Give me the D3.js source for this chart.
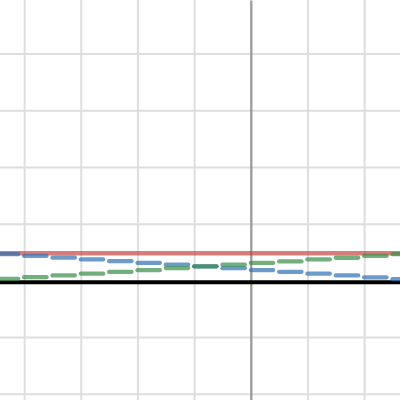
<!DOCTYPE html>
<html>
<head>
<meta charset="utf-8">
<script src="https://cdn.jsdelivr.net/npm/d3@7"></script>
<style>
  html, body { margin: 0; padding: 0; background: #fff; }
  svg { display: block; }
</style>
</head>
<body>
<div class="chart"></div>
<script>
// === Data ===
// left edge of every step, step width is 0.5
const stepStarts = [-4.5, -4, -3.5, -3, -2.5, -2, -1.5, -1, -0.5, 0, 0.5, 1, 1.5, 2, 2.5];
const blueSteps = [0.462, 0.43, 0.40, 0.369, 0.338, 0.306, 0.276, 0.247, 0.214, 0.181, 0.150, 0.117, 0.086, 0.053, 0.02];
const greenSteps = [0.025, 0.055, 0.086, 0.117, 0.148, 0.179, 0.216, 0.247, 0.276, 0.306, 0.334, 0.369, 0.398, 0.43, 0.462];
const redLevel = 0.476;
const blackLevel = -0.034;
const lineXs = [-4.5, 3];
const gridX = [-4, -3, -2, -1, 1, 2];
const gridY = [-2, -1, 1, 2, 3, 4];

const stepWidth = 0.5;
const stepGap = 0.105; // small break before each jump

//Chart init
const width = 400;
const height = 400;

const svg = d3.select(".chart").append("svg")
    .attr("width", width)
    .attr("height", height);

// === Scales ===
const xScale = d3.scaleLinear()
    .domain([-4.426, 2.633])
    .range([0, width]);
const yScale = d3.scaleLinear()
    .domain([-2.112, 4.946])
    .range([height, 0]);

svg.append("defs").append("clipPath")
    .attr("id", "plot-clip")
    .append("rect")
    .attr("width", width)
    .attr("height", height);

// === Grid ===
const xGrid = d3.axisBottom(xScale)
    .tickValues(gridX)
    .tickSize(-height)
    .tickFormat("");
const yGrid = d3.axisLeft(yScale)
    .tickValues(gridY)
    .tickSize(-width)
    .tickFormat("");

svg.append("g")
    .attr("class", "grid x-grid")
    .attr("transform", "translate(0," + height + ")")
    .call(xGrid);
svg.append("g")
    .attr("class", "grid y-grid")
    .call(yGrid);

svg.selectAll(".grid .domain").remove();
svg.selectAll(".grid line")
    .attr("stroke", "#dedede")
    .attr("stroke-width", 2);

// y axis (gray)
const yAxis = d3.axisRight(yScale).tickValues([]).tickSizeOuter(0);
svg.append("g")
    .attr("class", "y-axis")
    .attr("transform", "translate(" + xScale(0) + ",0)")
    .call(yAxis)
    .select(".domain")
    .attr("stroke", "#979797")
    .attr("stroke-width", 2.2);

// === Series ===
const line = d3.line()
    .x(d => xScale(d.x))
    .y(d => yScale(d.y));

const plot = svg.append("g").attr("clip-path", "url(#plot-clip)");

// flat lines
const flat = [
    {name: "black", y: blackLevel, color: "#000", opacity: 1, w: 4},
    {name: "red", y: redLevel, color: "#c74440", opacity: 0.7, w: 4.5}
];
plot.selectAll("path.flat")
    .data(flat)
    .enter()
    .append("path")
    .attr("class", d => "flat " + d.name)
    .attr("d", d => line(lineXs.map(x => ({x: x, y: d.y}))))
    .attr("fill", "none")
    .attr("stroke", d => d.color)
    .attr("stroke-opacity", d => d.opacity)
    .attr("stroke-width", d => d.w)
    .attr("stroke-linecap", "round");

// step series
const steps = [
    {name: "blue", values: blueSteps, color: "#2d70b3"},
    {name: "green", values: greenSteps, color: "#388c46"}
];

steps.forEach(s => {
    const g = plot.append("g").attr("class", "steps " + s.name);
    g.selectAll("path")
        .data(stepStarts.map((x0, i) => ({x0: x0, y: s.values[i]})))
        .enter()
        .append("path")
        .attr("d", d => line([{x: d.x0, y: d.y}, {x: d.x0 + stepWidth - stepGap, y: d.y}]))
        .attr("fill", "none")
        .attr("stroke", s.color)
        .attr("stroke-opacity", 0.7)
        .attr("stroke-width", 4.3)
        .attr("stroke-linecap", "round");
});
</script>
</body>
</html>
